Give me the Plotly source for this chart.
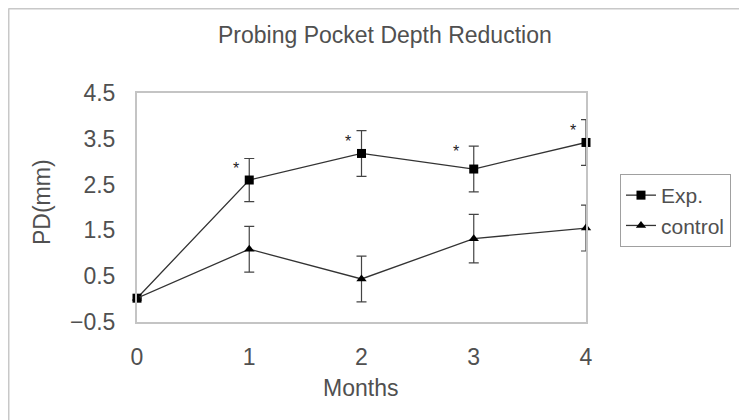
import plotly.graph_objects as go

months = [0, 1, 2, 3, 4]
exp_vals = [0.02, 2.6, 3.18, 2.84, 3.42]
exp_err = [0.0, 0.47, 0.5, 0.5, 0.5]
ctrl_vals = [0.02, 1.09, 0.44, 1.32, 1.55]
ctrl_err = [0.0, 0.5, 0.5, 0.53, 0.5]
star_x = [0.88, 1.88, 2.84, 3.88]
star_y = [2.86, 3.45, 3.23, 3.68]
y_ticks = [-0.5, 0.5, 1.5, 2.5, 3.5, 4.5]
y_ticktext = ["\u22120.5", "0.5", "1.5", "2.5", "3.5", "4.5"]

FONT = "Liberation Sans, Arial, sans-serif"
TXT = "#505050"
FS = 23

fig = go.Figure()
fig.add_trace(go.Scatter(
    x=months, y=exp_vals, name="Exp.", mode="lines+markers", legendgroup="a",
    line=dict(color="#333333", width=1.3),
    marker=dict(symbol="square", size=9, color="#000000"),
    error_y=dict(type="data", array=exp_err, visible=True, color="#444444", thickness=1.2, width=5),
    cliponaxis=False,
))
fig.add_trace(go.Scatter(
    x=months, y=ctrl_vals, name="control", mode="lines+markers", legendgroup="b",
    line=dict(color="#333333", width=1.3),
    marker=dict(symbol="triangle-up", size=9, color="#000000"),
    error_y=dict(type="data", array=ctrl_err, visible=True, color="#444444", thickness=1.2, width=5),
    cliponaxis=False,
))

for sx, sy in zip(star_x, star_y):
    fig.add_annotation(x=sx, y=sy, text="*", showarrow=False,
                       font=dict(family=FONT, size=16, color="#222222"),
                       xanchor="center", yanchor="middle")

# axis titles placed as annotations
fig.add_annotation(xref="paper", yref="paper", x=0.498, y=-0.288, text="Months",
                   showarrow=False, xanchor="center", yanchor="middle",
                   font=dict(family=FONT, size=FS, color=TXT))
fig.add_annotation(xref="paper", yref="paper", x=-0.2116, y=0.524, text="PD(mm)",
                   showarrow=False, xanchor="center", yanchor="middle", textangle=-90,
                   font=dict(family=FONT, size=FS, color=TXT))

# outer chart border (top and left visible)
fig.add_shape(type="line", xref="paper", yref="paper",
              x0=-0.2862, x1=-0.2862, y0=-0.6, y1=1.369,
              line=dict(color="#c8c8c8", width=2))
fig.add_shape(type="line", xref="paper", yref="paper",
              x0=-0.2862, x1=1.5, y0=1.369, y1=1.369,
              line=dict(color="#c8c8c8", width=2))

fig.update_layout(
    width=739, height=412,
    margin=dict(l=129, r=161, t=85, b=98),
    paper_bgcolor="white", plot_bgcolor="white",
    font=dict(family=FONT, size=FS, color=TXT),
    title=dict(text="Probing Pocket Depth Reduction", xref="container", x=0.510,
               xanchor="center", y=1 - 27 / 412, yanchor="middle",
               font=dict(family=FONT, size=FS, color=TXT)),
    showlegend=True,
    legend=dict(x=1.0757, y=0.6463, xanchor="left", yanchor="top",
                bordercolor="#a0a0a0", borderwidth=1, bgcolor="white",
                font=dict(family=FONT, size=21, color=TXT),
                tracegroupgap=0),
    xaxis=dict(range=[0, 4], tickvals=months, showgrid=False, zeroline=False,
               showline=True, linecolor="#c4c4c4", linewidth=2, mirror=True, ticks="",
               ticklabelstandoff=13,
               tickfont=dict(family=FONT, size=FS, color=TXT)),
    yaxis=dict(range=[-0.5, 4.5], tickvals=y_ticks, ticktext=y_ticktext,
               showgrid=False, zeroline=False,
               showline=True, linecolor="#c4c4c4", linewidth=2, mirror=True, ticks="",
               ticklabelstandoff=15,
               tickfont=dict(family=FONT, size=FS, color=TXT)),
)

fig.write_html("out.html")
